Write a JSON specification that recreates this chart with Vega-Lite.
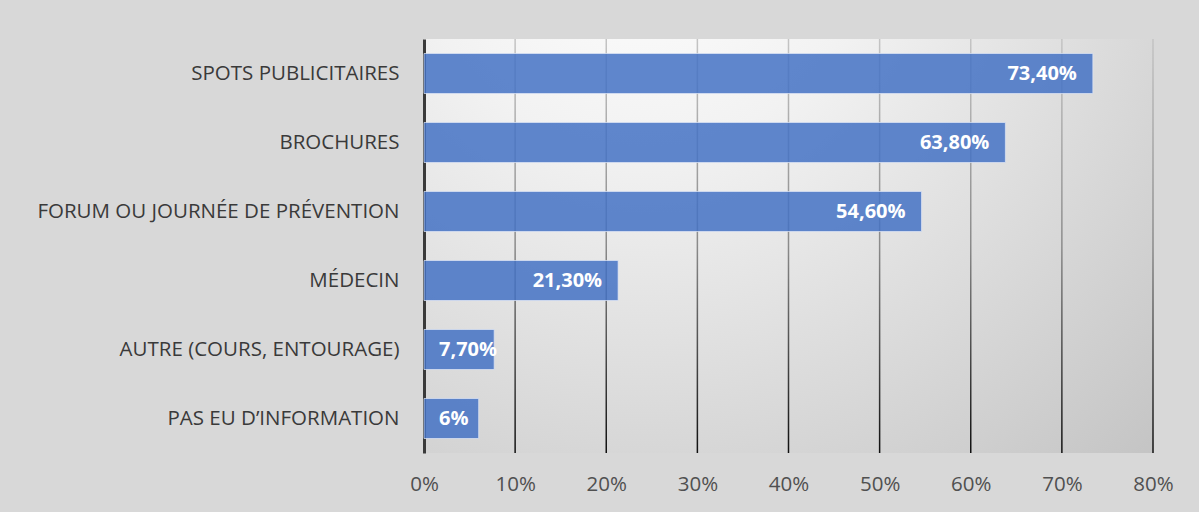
{
  "$schema": "https://vega.github.io/schema/vega-lite/v6.json",
  "width": 729,
  "height": 414,
  "autosize": {"type": "none"},
  "padding": {"left": 424, "top": 39, "right": 46, "bottom": 59},
  "background": "#d8d8d8",
  "config": {
    "font": "Open Sans",
    "view": {
      "stroke": null,
      "fill": {
        "gradient": "radial",
        "x1": 0.3, "y1": 0.05, "r1": 0,
        "x2": 0.3, "y2": 0.05, "r2": 1.05,
        "stops": [
          {"offset": 0, "color": "#ffffff"},
          {"offset": 0.3, "color": "#f2f2f2"},
          {"offset": 1, "color": "#c2c2c2"}
        ]
      }
    }
  },
  "datasets": {
    "bars": [
      {"source": "SPOTS PUBLICITAIRES", "pct": 73.4, "label": "73,40%"},
      {"source": "BROCHURES", "pct": 63.8, "label": "63,80%"},
      {"source": "FORUM OU JOURNÉE DE PRÉVENTION", "pct": 54.6, "label": "54,60%"},
      {"source": "MÉDECIN", "pct": 21.3, "label": "21,30%"},
      {"source": "AUTRE (COURS, ENTOURAGE)", "pct": 7.7, "label": "7,70%"},
      {"source": "PAS EU D’INFORMATION", "pct": 6, "label": "6%"}
    ],
    "grid": [
      {"v": 10}, {"v": 20}, {"v": 30}, {"v": 40},
      {"v": 50}, {"v": 60}, {"v": 70}, {"v": 80}
    ]
  },
  "layer": [
    {
      "data": {"name": "grid"},
      "mark": {
        "type": "tick",
        "orient": "vertical",
        "thickness": 1.5,
        "size": 414,
        "opacity": 1,
        "color": {
          "gradient": "linear",
          "x1": 0, "y1": 0, "x2": 0, "y2": 1,
          "stops": [
            {"offset": 0, "color": "#c4c4c4"},
            {"offset": 0.5, "color": "#8a8a8a"},
            {"offset": 1, "color": "#101010"}
          ]
        }
      },
      "encoding": {
        "x": {"field": "v", "type": "quantitative", "scale": {"domain": [0, 80]}}
      }
    },
    {
      "data": {"name": "bars"},
      "mark": {
        "type": "bar",
        "color": "#4472C4",
        "fillOpacity": 0.85,
        "stroke": "#dfe7f7",
        "strokeOpacity": 0.7,
        "strokeWidth": 1
      },
      "encoding": {
        "y": {
          "field": "source",
          "type": "nominal",
          "sort": null,
          "scale": {"paddingInner": 0.42, "paddingOuter": 0.21},
          "axis": {
            "title": null,
            "domain": true,
            "domainColor": "#3a3a3a",
            "domainWidth": 3,
            "ticks": false,
            "labelFontSize": 20.5,
            "labelColor": "#3a3a3a",
            "labelPadding": 25,
            "labelLimit": 500
          }
        },
        "x": {
          "field": "pct",
          "type": "quantitative",
          "scale": {"domain": [0, 80]},
          "axis": {
            "title": null,
            "grid": false,
            "domain": false,
            "ticks": false,
            "labelFlush": false,
            "values": [0, 10, 20, 30, 40, 50, 60, 70, 80],
            "labelExpr": "datum.value + '%'",
            "labelFontSize": 20.5,
            "labelColor": "#505050",
            "labelPadding": 21
          }
        }
      }
    },
    {
      "data": {"name": "bars"},
      "transform": [{"filter": "datum.pct >= 15"}],
      "mark": {
        "type": "text",
        "align": "right",
        "baseline": "middle",
        "dx": -16,
        "fontSize": 20,
        "fontWeight": "bold",
        "color": "#ffffff"
      },
      "encoding": {
        "y": {"field": "source", "type": "nominal", "sort": null},
        "x": {"field": "pct", "type": "quantitative"},
        "text": {"field": "label"}
      }
    },
    {
      "data": {"name": "bars"},
      "transform": [{"filter": "datum.pct < 15"}],
      "mark": {
        "type": "text",
        "align": "left",
        "baseline": "middle",
        "dx": 15,
        "fontSize": 20,
        "fontWeight": "bold",
        "color": "#ffffff"
      },
      "encoding": {
        "y": {"field": "source", "type": "nominal", "sort": null},
        "x": {"datum": 0, "type": "quantitative"},
        "text": {"field": "label"}
      }
    }
  ]
}
